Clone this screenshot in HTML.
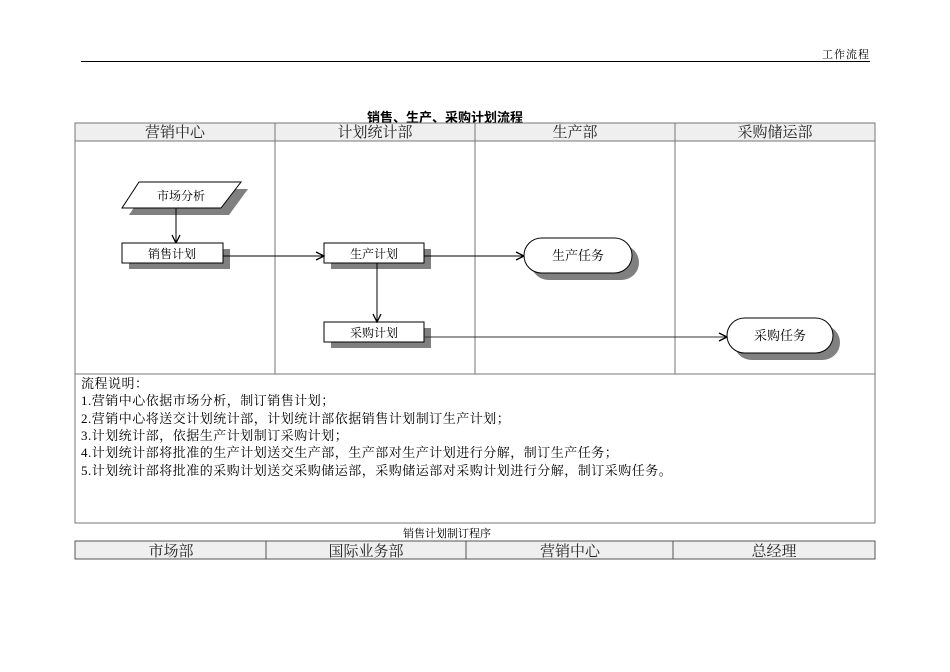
<!DOCTYPE html>
<html><head><meta charset="utf-8"><style>
body{margin:0;background:#fff;width:950px;height:672px;position:relative;overflow:hidden;font-family:"Liberation Serif","Noto Serif CJK SC",serif;}
.a{position:absolute;}
</style></head><body>
<div class="a" style="left:822px;top:46px;font-size:11px;letter-spacing:1px;">工作流程</div>
<div class="a" style="left:81px;top:61px;width:789px;height:1px;background:#000;"></div>
<div class="a" style="left:367px;top:107px;font-size:13px;font-weight:bold;font-family:'Liberation Sans','Noto Sans CJK SC',sans-serif;">销售、生产、采购计划流程</div>
<svg class="a" style="left:0;top:0" width="950" height="672" font-family="Liberation Serif, Noto Serif CJK SC, serif">
<defs><marker id="m" markerWidth="10" markerHeight="10" refX="9" refY="5" orient="auto" markerUnits="userSpaceOnUse"><path d="M1,1 L9,5 L1,9" fill="none" stroke="#000" stroke-width="1.3"/></marker></defs>
<rect x="75" y="123" width="800" height="18" fill="#efefef" stroke="#777"/>
<rect x="75" y="141" width="800" height="382" fill="none" stroke="#777"/>
<line x1="75" y1="374" x2="875" y2="374" stroke="#777"/>
<g stroke="#777"><line x1="275" y1="123" x2="275" y2="374"/><line x1="475" y1="123" x2="475" y2="374"/><line x1="675" y1="123" x2="675" y2="374"/></g>
<g font-size="15" text-anchor="middle" fill="#222"><text x="175" y="137">营销中心</text><text x="375" y="137">计划统计部</text><text x="575" y="137">生产部</text><text x="775" y="137">采购储运部</text></g>
<polygon points="146,189 248,189 229,215 129,215" fill="#808080"/>
<polygon points="139,182 241,182 221,208 122,208" fill="#fff" stroke="#000"/>
<text x="181" y="200" font-size="12" text-anchor="middle">市场分析</text>
<line x1="176" y1="208" x2="176" y2="243" stroke="#000" marker-end="url(#m)"/>
<rect x="129" y="249" width="101" height="20" fill="#808080"/>
<rect x="122" y="243" width="101" height="20" fill="#fff" stroke="#000"/>
<text x="172" y="258" font-size="12" text-anchor="middle">销售计划</text>
<rect x="331" y="249" width="100" height="20" fill="#808080"/>
<rect x="324" y="243" width="100" height="20" fill="#fff" stroke="#000"/>
<text x="374" y="258" font-size="12" text-anchor="middle">生产计划</text>
<rect x="331" y="328" width="100" height="20" fill="#808080"/>
<rect x="324" y="322" width="100" height="20" fill="#fff" stroke="#000"/>
<text x="374" y="337" font-size="12" text-anchor="middle">采购计划</text>
<line x1="223" y1="256" x2="324" y2="256" stroke="#000" marker-end="url(#m)"/>
<line x1="377" y1="263" x2="377" y2="322" stroke="#000" marker-end="url(#m)"/>
<line x1="424" y1="256" x2="524" y2="256" stroke="#000" marker-end="url(#m)"/>
<line x1="424" y1="337" x2="727" y2="337" stroke="#333" marker-end="url(#m)"/>
<rect x="531" y="245" width="108" height="35" rx="17.5" fill="#808080"/>
<rect x="524" y="238" width="108" height="35" rx="17.5" fill="#fff" stroke="#000"/>
<text x="578" y="260" font-size="13" text-anchor="middle">生产任务</text>
<rect x="734" y="325" width="106" height="35" rx="17.5" fill="#808080"/>
<rect x="727" y="318" width="106" height="35" rx="17.5" fill="#fff" stroke="#000"/>
<text x="780" y="340" font-size="13" text-anchor="middle">采购任务</text>
<g font-size="13" fill="#000" letter-spacing="0.5"><text x="81" y="388">流程说明：</text>
<text x="81" y="405">1.营销中心依据市场分析，制订销售计划；</text>
<text x="81" y="423">2.营销中心将送交计划统计部，计划统计部依据销售计划制订生产计划；</text>
<text x="81" y="440">3.计划统计部，依据生产计划制订采购计划；</text>
<text x="81" y="457">4.计划统计部将批准的生产计划送交生产部，生产部对生产计划进行分解，制订生产任务；</text>
<text x="81" y="475">5.计划统计部将批准的采购计划送交采购储运部，采购储运部对采购计划进行分解，制订采购任务。</text></g>
<text x="447" y="537" font-size="11" text-anchor="middle">销售计划制订程序</text>
<rect x="75" y="541" width="800" height="18" fill="#efefef" stroke="#555"/>
<g stroke="#555"><line x1="266" y1="541" x2="266" y2="559"/><line x1="466" y1="541" x2="466" y2="559"/><line x1="673" y1="541" x2="673" y2="559"/></g>
<g font-size="15" text-anchor="middle" fill="#222"><text x="171" y="556">市场部</text><text x="366" y="556">国际业务部</text><text x="570" y="556">营销中心</text><text x="774" y="556">总经理</text></g>
</svg>
</body></html>
